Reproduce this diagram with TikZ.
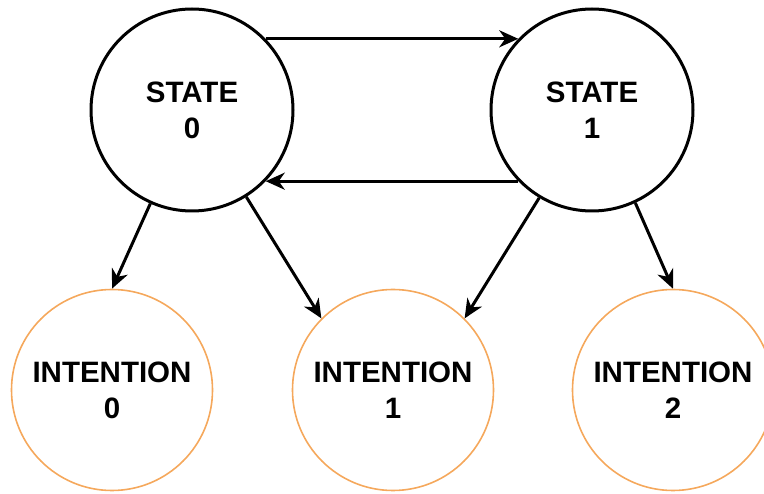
\documentclass[tikz,border=0pt]{standalone}
\usepackage{fontspec}
\setmainfont{Liberation Sans}
\usetikzlibrary{arrows.meta}

\definecolor{intentionorange}{RGB}{245,168,92}

\tikzset{
  statenode/.style={circle, draw=black, line width=3pt, minimum size=202pt,
    inner sep=0pt, align=center, font=\bfseries\fontsize{29.5}{36}\selectfont},
  intentionnode/.style={circle, draw=intentionorange, line width=1.6pt, minimum size=201pt,
    inner sep=0pt, align=center, font=\bfseries\fontsize{29.5}{36}\selectfont},
  link/.style={draw=black, line width=3pt,
    -{Stealth[length=19pt, width=17pt, inset=6pt]}}
}

\begin{document}
\begin{tikzpicture}[x=1pt, y=-1pt]
  \useasboundingbox (0,0) rectangle (764,494);

  % states
  \node[statenode] (s0) at (192,110) {STATE\\0};
  \node[statenode] (s1) at (592,110) {STATE\\1};

  % intentions
  \node[intentionnode] (i0) at (112,390) {INTENTION\\0};
  \node[intentionnode] (i1) at (393,390) {INTENTION\\1};
  \node[intentionnode] (i2) at (673,390) {INTENTION\\2};

  % transitions between the states
  \draw[link] (s0.44) -- (s1.136);
  \draw[link] (s1.224) -- (s0.316);

  % state to intention links
  \draw[link] (s0.246) -- (i0.north);
  \draw[link] (s0.302) -- (i1.135);
  \draw[link] (s1.239) -- (i1.45);
  \draw[link] (s1.295) -- (i2.north);
\end{tikzpicture}
\end{document}
